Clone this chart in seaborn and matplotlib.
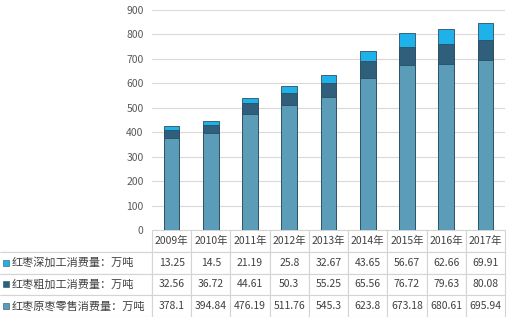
import matplotlib
matplotlib.use("Agg")
import matplotlib.pyplot as plt
import seaborn as sns
import pandas as pd
import numpy as np

years = ["2009年", "2010年", "2011年", "2012年", "2013年", "2014年", "2015年", "2016年", "2017年"]
deep = [13.25, 14.5, 21.19, 25.8, 32.67, 43.65, 56.67, 62.66, 69.91]
coarse = [32.56, 36.72, 44.61, 50.3, 55.25, 65.56, 76.72, 79.63, 80.08]
retail = [378.1, 394.84, 476.19, 511.76, 545.3, 623.8, 673.18, 680.61, 695.94]
series_names = ["红枣深加工消费量：万吨", "红枣粗加工消费量：万吨", "红枣原枣零售消费量：万吨"]
colors = ["#1eb1ea", "#2f5f7b", "#5b9cb8"]
yticks = list(range(0, 901, 100))

sns.set_theme(style="white")
plt.rcParams["font.family"] = ["Noto Sans CJK SC", "DejaVu Sans"]

df = pd.DataFrame({"year": years, "deep": deep, "coarse": coarse, "retail": retail})
df["c2"] = df["retail"] + df["coarse"]
df["c3"] = df["c2"] + df["deep"]

W, H = 511, 317
fig = plt.figure(figsize=(W / 100, H / 100), dpi=100)
ax_l, ax_r, ax_t, ax_b = 152, 505, 10, 230
ax = fig.add_axes([ax_l / W, 1 - ax_b / H, (ax_r - ax_l) / W, (ax_b - ax_t) / H])

for col, c in zip(["c3", "c2", "retail"], colors):
    sns.barplot(data=df, x="year", y=col, color=c, ax=ax, width=0.4,
                edgecolor="#2a4f63", linewidth=0.6, saturation=1)

ax.set_ylim(0, 900)
ax.set_yticks(yticks)
ax.set_yticklabels([str(v) for v in yticks], fontsize=7.5, color="#595959")
ax.tick_params(axis="y", length=0, pad=6)
ax.set_xticks([])
ax.set_xlabel("")
ax.set_ylabel("")
ax.set_xlim(-0.5, len(years) - 0.5)
ax.grid(axis="y", color="#d9d9d9", linewidth=0.8)
ax.set_axisbelow(True)
for s in ax.spines.values():
    s.set_visible(False)

# data table
rows = [["", *years],
        ["", *[f"{v:g}" for v in deep]],
        ["", *[f"{v:g}" for v in coarse]],
        ["", *[f"{v:g}" for v in retail]]]
axw = ax_r - ax_l
label_w = ax_l - 0
colw = [label_w / axw] + [1.0 / len(years)] * len(years)
tbl_h = (H - ax_b) / (ax_b - ax_t)
tbl = ax.table(cellText=rows, colWidths=colw, cellLoc="center",
               bbox=[-label_w / axw, -tbl_h, 1 + label_w / axw, tbl_h])
tbl.auto_set_font_size(False)
tbl.set_fontsize(7.5)
for (r, c), cell in tbl.get_celld().items():
    cell.set_edgecolor("#d4d4d4")
    cell.set_linewidth(0.8)
    cell.get_text().set_color("#404040")
    if c == 0:
        cell.visible_edges = "B" if r == 0 else "TBR"
    else:
        cell.visible_edges = "closed"

# row labels with legend keys
row_h = (H - ax_b) / 4
for i, (name, c) in enumerate(zip(series_names, colors)):
    y = ax_b + row_h * (i + 1.5)
    fig.patches.append(plt.Rectangle((3 / W, 1 - (y + 3) / H), 6 / W, 6 / H,
                                     transform=fig.transFigure, facecolor=c,
                                     edgecolor="#2a4f63", linewidth=0.4))
    fig.text(12 / W, 1 - y / H, name, fontsize=8, color="#404040",
             ha="left", va="center")

fig.savefig("out.png", dpi=100)
